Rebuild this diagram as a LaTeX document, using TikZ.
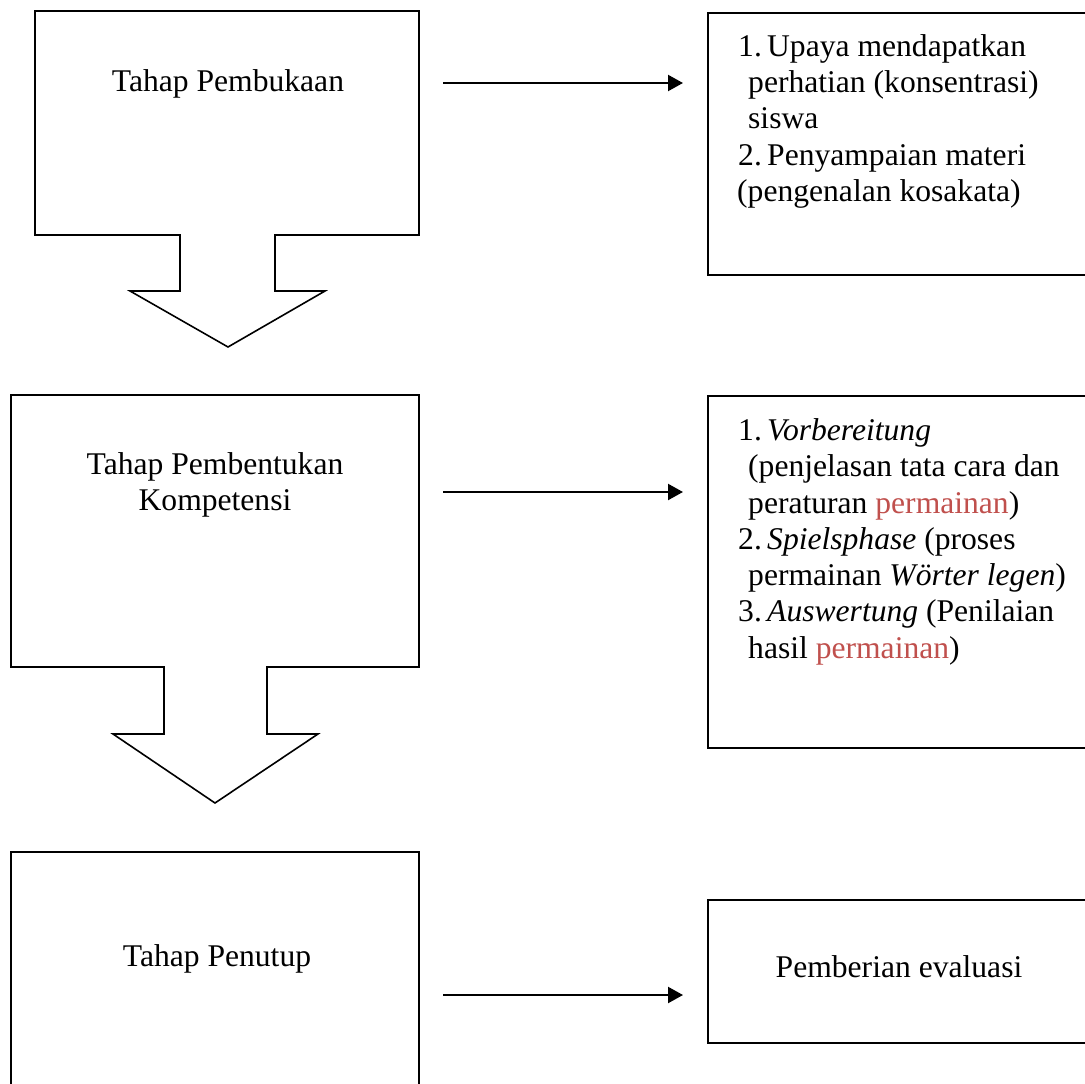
\documentclass[tikz,border=0pt]{standalone}
\usepackage{fontspec}
\setmainfont{Liberation Serif}
\usetikzlibrary{arrows.meta}
\definecolor{wordred}{RGB}{192,80,77}
\begin{document}
\begin{tikzpicture}[x=1pt,y=-1pt,
  outline/.style={draw=black,line width=1.6pt,line join=miter},
  rbox/.style={draw=black,line width=1.6pt,anchor=north west,inner sep=0pt},
  flowarrow/.style={line width=2.2pt,-{Triangle[length=15pt,width=16pt]}},
  txt/.style={font=\fontsize{31.6}{36.2}\selectfont,inner sep=0pt},
  line/.style={txt,anchor=base west},
  ctr/.style={txt,anchor=base}]
\useasboundingbox (0,0) rectangle (1085,1084);
\clip (0,0) rectangle (1085,1084);
% left column shapes
\draw[outline] (35,11) -- (419,11) -- (419,235) -- (275,235) -- (275,291) -- (325,291)
  -- (228,347) -- (130,291) -- (180,291) -- (180,235) -- (35,235) -- cycle;
\draw[outline] (11,395) -- (419,395) -- (419,667) -- (267,667) -- (267,734) -- (318,734)
  -- (215,803) -- (113,734) -- (164,734) -- (164,667) -- (11,667) -- cycle;
\draw[outline] (11,1100) -- (11,852) -- (419,852) -- (419,1100);
% left texts
\node[ctr] (t1) at (228,91) {Tahap Pembukaan};
\node[ctr] (t2a) at (215,474) {Tahap Pembentukan};
\node[ctr] (t2b) at (215,510) {Kompetensi};
\node[ctr] (t3) at (217,966) {Tahap Penutup};
% right boxes
\node[rbox,minimum width=384pt,minimum height=262pt] (r1) at (707,12) {};
\node[rbox,minimum width=384pt,minimum height=352pt] (r2) at (707,395) {};
\node[rbox,minimum width=384pt,minimum height=143pt] (r3) at (707,899) {};
% right box 1 text
\node[line] (r1l1) at (738,56) {\makebox[29pt][l]{1.}Upaya mendapatkan};
\node[line] (r1l2) at (748,92) {perhatian (konsentrasi)};
\node[line] (r1l3) at (748,128) {siswa};
\node[line] (r1l4) at (738,165) {\makebox[29pt][l]{2.}Penyampaian materi};
\node[line] (r1l5) at (737,201) {(pengenalan kosakata)};
% right box 2 text
\node[line] (r2l1) at (738,440) {\makebox[29pt][l]{1.}\textit{Vorbereitung}};
\node[line] (r2l2) at (748,476) {(penjelasan tata cara dan};
\node[line] (r2l3) at (748,513) {peraturan \textcolor{wordred}{permainan})};
\node[line] (r2l4) at (738,549) {\makebox[29pt][l]{2.}\textit{Spielsphase} (proses};
\node[line] (r2l5) at (748,585) {permainan \textit{Wörter legen})};
\node[line] (r2l6) at (738,621) {\makebox[29pt][l]{3.}\textit{Auswertung} (Penilaian};
\node[line] (r2l7) at (748,658) {hasil \textcolor{wordred}{permainan})};
% right box 3 text
\node[ctr] (r3t) at (899,977) {Pemberian evaluasi};
% arrows
\coordinate (a1s) at (443,83);
\coordinate (a1e) at (683,83);
\coordinate (a2s) at (443,492);
\coordinate (a2e) at (683,492);
\coordinate (a3s) at (443,995);
\coordinate (a3e) at (683,995);
\draw[flowarrow] (a1s) -- (a1e);
\draw[flowarrow] (a2s) -- (a2e);
\draw[flowarrow] (a3s) -- (a3e);
\end{tikzpicture}
\end{document}
